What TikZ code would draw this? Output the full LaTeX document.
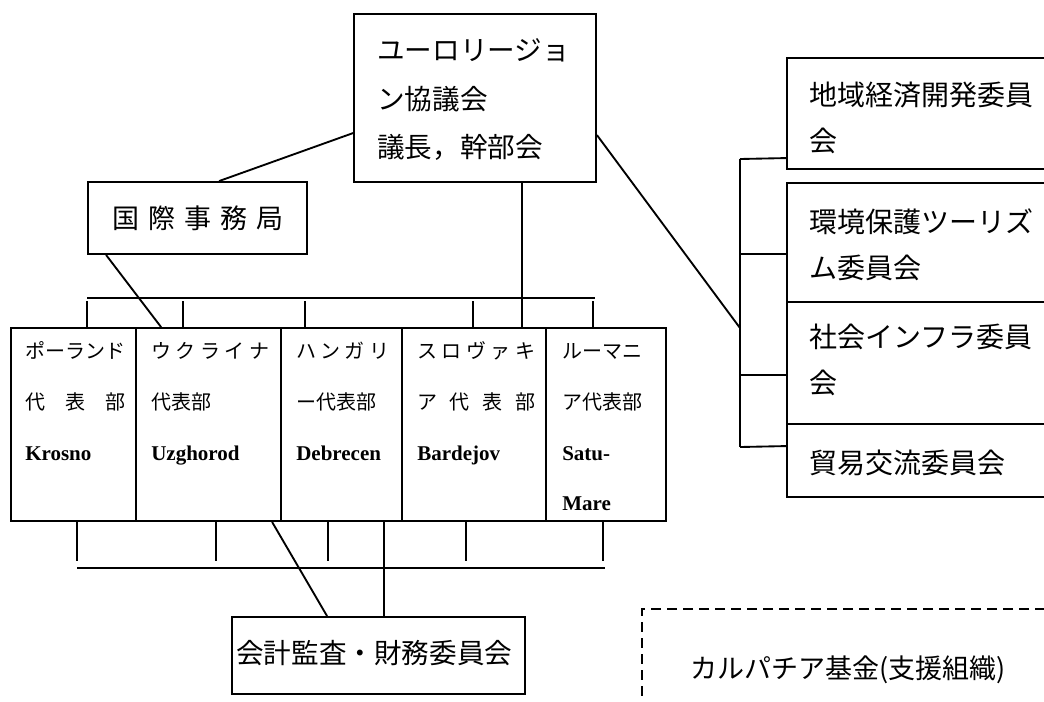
\documentclass[tikz,border=0pt]{standalone}
\usepackage{fontspec}
\newfontfamily\jp{Noto Sans CJK JP}
\newfontfamily\latf{Liberation Serif}
\usetikzlibrary{calc,fit}
\newcommand\js{\rule[-0.12em]{0pt}{1em}}
\newcommand\spr[2]{\makebox[#1][s]{#2}}
\newcommand\lt[1]{{\latf\bfseries\fontsize{15.75}{38}\selectfont #1}}
\begin{document}
\begin{tikzpicture}[x=0.75pt,y=-0.75pt,
  box/.style={draw,line width=1.4pt,inner sep=0pt},
  dbox/.style={draw,line width=1.4pt,inner sep=0pt,dash pattern=on 7.5pt off 4.5pt},
  ln/.style={line width=1.4pt},
  txt/.style={inner sep=0pt,anchor=north west,align=left},
  bigtxt/.style={txt,font=\fontsize{20.7}{36.4}\selectfont\jp},
  comtxt/.style={txt,font=\fontsize{21}{34}\selectfont\jp},
  brtxt/.style={txt,font=\fontsize{15}{38}\selectfont\jp}]
\useasboundingbox (0,0) rectangle (1044,701);
\fill[white] (0,0) rectangle (1044,701);
\clip (0,0) rectangle (1044,701);

% boxes
\node[box,fit={(354,14) (596,182)}] (C) {};
\node[box,fit={(88,182) (307,254)}] (S) {};
\node[box,fit={(11,328) (136,521)}] (P) {};
\node[box,fit={(136,328) (281,521)}] (U) {};
\node[box,fit={(281,328) (402,521)}] (H) {};
\node[box,fit={(402,328) (546,521)}] (K) {};
\node[box,fit={(546,328) (666,521)}] (R) {};
\node[box,fit={(232,617) (525,694)}] (A) {};
\node[box,fit={(787,58) (1060,169)}] (E1) {};
\node[box,fit={(787,183) (1060,302)}] (E2) {};
\node[box,fit={(787,302) (1060,424)}] (E3) {};
\node[box,fit={(787,424) (1060,497)}] (E4) {};
\node[dbox,fit={(642,609) (1060,720)}] (F) {};

% texts
\node[bigtxt] (Ct) at (377,36) {\js ユーロリージョ\\\js ン協議会\\\js 議長，幹部会};
\node[txt,font=\fontsize{20.25}{30}\selectfont\jp] (St) at (112,204.5)
  {\js 国\hspace{6.75pt}際\hspace{6.75pt}事\hspace{6.75pt}務\hspace{6.75pt}局};
\node[brtxt] (Pt) at (25,341) {\js ポーランド\\\js\spr{75pt}{代\hfill 表\hfill 部}\\\js\lt{Krosno}};
\node[brtxt] (Ut) at (151,341) {\js\spr{88.5pt}{ウ\hfill ク\hfill ラ\hfill イ\hfill ナ}\\\js 代表部\\\js\lt{Uzghorod}};
\node[brtxt] (Ht) at (296,341) {\js\spr{69.75pt}{ハ\hfill ン\hfill ガ\hfill リ}\\\js ー代表部\\\js\lt{Debrecen}};
\node[brtxt] (Kt) at (417,341) {\js\spr{88.5pt}{ス\hfill ロ\hfill ヴ\hfill ァ\hfill キ}\\\js\spr{88.5pt}{ア\hfill 代\hfill 表\hfill 部}\\\js\lt{Bardejov}};
\node[brtxt] (Rt) at (562,341) {\js ルーマニ\\\js ア代表部\\\js\lt{Satu-}\\\js\lt{Mare}};
\node[bigtxt] (At) at (236,639) {\js 会計監査・財務委員会};
\node[comtxt] (E1t) at (809,81) {\js 地域経済開発委員\\\js 会};
\node[comtxt] (E2t) at (809,208) {\js 環境保護ツーリズ\\\js ム委員会};
\node[comtxt] (E3t) at (809,323) {\js 社会インフラ委員\\\js 会};
\node[comtxt] (E4t) at (809,449) {\js 貿易交流委員会};
\node[txt,font=\fontsize{20.25}{27}\selectfont\jp] (Ft) at (690,654.5) {\js カルパチア基金(支援組織)};

% connectors: council
\draw[ln] ($(S.north west)+(132,0)$) -- ($(C.north west)+(0,120)$);
\draw[ln] ($(S.south west)+(19,0)$) -- ($(U.north west)+(26,0)$);
\draw[ln] ($(C.south west)+(169,0)$) -- ($(K.north west)+(121,0)$);

% top bus
\coordinate (tb1) at (87,298);
\coordinate (tb2) at (595,298);
\draw[ln] (tb1) -- (tb2);
\draw[ln] ($(P.north west)+(77,-26)$) -- ($(P.north west)+(77,0)$);
\draw[ln] ($(U.north west)+(48,-26)$) -- ($(U.north west)+(48,0)$);
\draw[ln] ($(H.north west)+(25,-26)$) -- ($(H.north west)+(25,0)$);
\draw[ln] ($(K.north west)+(72,-26)$) -- ($(K.north west)+(72,0)$);
\draw[ln] ($(R.north west)+(48,-26)$) -- ($(R.north west)+(48,0)$);

% bottom bus
\coordinate (bb1) at (77,568);
\coordinate (bb2) at (605,568);
\draw[ln] (bb1) -- (bb2);
\draw[ln] ($(P.south west)+(67,0)$) -- ($(P.south west)+(67,39)$);
\draw[ln] ($(U.south west)+(81,0)$) -- ($(U.south west)+(81,39)$);
\draw[ln] ($(H.south west)+(48,0)$) -- ($(H.south west)+(48,39)$);
\draw[ln] ($(K.south west)+(65,0)$) -- ($(K.south west)+(65,39)$);
\draw[ln] ($(R.south west)+(58,0)$) -- ($(R.south west)+(58,39)$);
\draw[ln] ($(H.south west)+(104,0)$) -- ($(A.north west)+(153,0)$);
\draw[ln] ($(U.south west)+(137,0)$) -- ($(A.north west)+(96,0)$);

% right bus
\coordinate (rb1) at (740,159);
\coordinate (rb2) at (740,447);
\coordinate (rbm) at (740,328);
\draw[ln] (rb1) -- (rb2);
\draw[ln] ($(C.north east)+(0,122)$) -- (rbm);
\draw[ln] (rb1) -- ($(E1.north west)+(0,101)$);
\draw[ln] ($(E2.north west)+(-47,72)$) -- ($(E2.north west)+(0,72)$);
\draw[ln] ($(E3.north west)+(-47,74)$) -- ($(E3.north west)+(0,74)$);
\draw[ln] (rb2) -- ($(E4.north west)+(0,23)$);
\end{tikzpicture}
\end{document}
